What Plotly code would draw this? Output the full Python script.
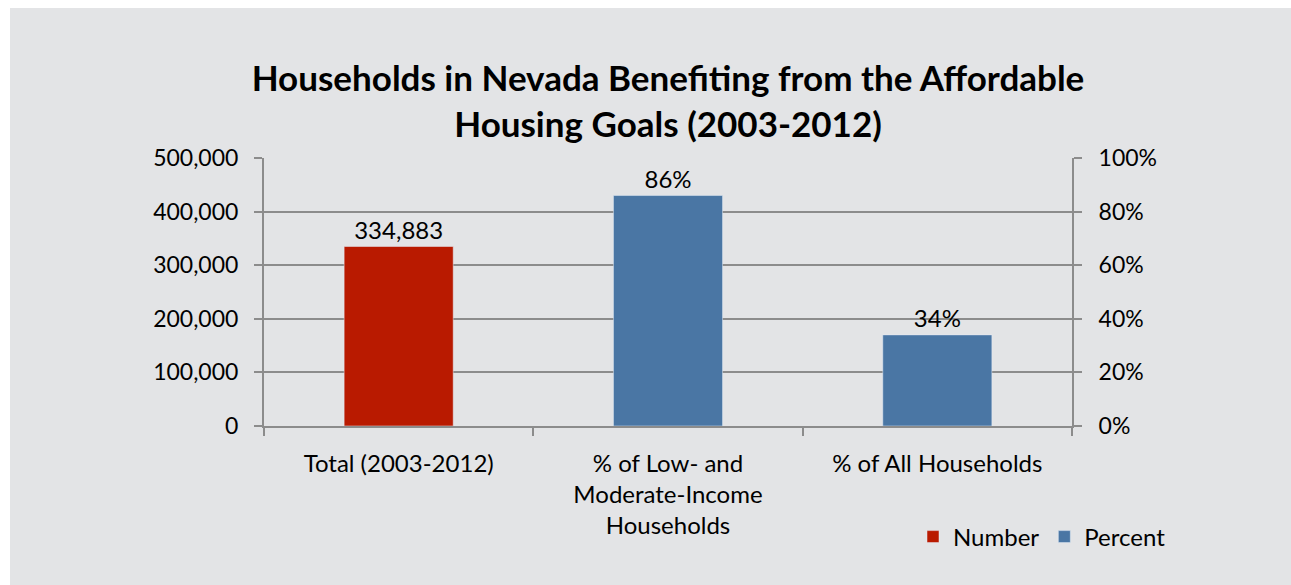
import plotly.graph_objects as go

categories = ["Total (2003-2012)", "% of Low- and<br>Moderate-Income<br>Households", "% of All Households"]
number_cats = [categories[0]]
number_vals = [334883]
percent_cats = [categories[1], categories[2]]
percent_vals = [0.86, 0.34]
left_ticks = [0, 100000, 200000, 300000, 400000, 500000]
right_ticks = [0, 0.2, 0.4, 0.6, 0.8, 1.0]

FONT = "Lato"
GRID = "#8c8c8c"
BG = "#e3e4e6"

fig = go.Figure()
fig.add_trace(go.Bar(
    x=number_cats, y=number_vals, name="Number", marker_color="#b91a00",
    width=0.405, texttemplate="%{y:,}", textposition="outside",
    textfont=dict(size=24, color="black", family=FONT), cliponaxis=False,
    yaxis="y", hoverinfo="skip"))
fig.add_trace(go.Bar(
    x=percent_cats, y=percent_vals, name="Percent", marker_color="#4a76a4",
    width=0.405, texttemplate="%{y:.0%}", textposition="outside",
    textfont=dict(size=24, color="black", family=FONT), cliponaxis=False,
    yaxis="y2", hoverinfo="skip"))

W, H = 1291, 585
L, R, T, B = 264, 1072, 158, 426
pw, ph = R - L, B - T

def px_x(v):
    return (v - L) / pw

def px_y(v):
    return (B - v) / ph

fig.update_layout(
    width=W, height=H,
    margin=dict(l=L, r=W - R, t=T, b=H - B, pad=0),
    paper_bgcolor=BG, plot_bgcolor=BG,
    font=dict(family=FONT, size=24, color="black"),
    barmode="overlay",
    title=dict(
        text="<b>Households in Nevada Benefiting from the Affordable<br>Housing Goals (2003-2012)</b>",
        x=px_x(668), xref="paper", xanchor="center",
        y=1 - 91 / H, yref="container", yanchor="middle",
        font=dict(size=35, family=FONT, color="black")),
    showlegend=True,
    legend=dict(orientation="h", x=px_x(1171), xanchor="right", y=px_y(537), yanchor="middle",
                bgcolor="rgba(0,0,0,0)", font=dict(size=24, family=FONT),
                itemclick=False, itemdoubleclick=False),
    xaxis=dict(type="category", categoryorder="array", categoryarray=categories,
               showline=True, linecolor=GRID, linewidth=2,
               ticks="outside", tickson="boundaries", ticklen=8, tickcolor=GRID, tickwidth=2,
               showgrid=False, ticklabelstandoff=15, fixedrange=True),
    yaxis=dict(range=[0, 500000], tickvals=left_ticks, tickformat=",",
               tickfont=dict(size=23),
               showline=True, linecolor=GRID, linewidth=2,
               ticks="outside", ticklen=8, tickcolor=GRID, tickwidth=2,
               showgrid=True, gridcolor=GRID, gridwidth=2, zeroline=False,
               ticklabelstandoff=11, fixedrange=True),
    yaxis2=dict(range=[0, 1], tickvals=right_ticks, tickformat=".0%",
                tickfont=dict(size=23),
                overlaying="y", side="right",
                showline=True, linecolor=GRID, linewidth=2,
                ticks="outside", ticklen=8, tickcolor=GRID, tickwidth=2,
                showgrid=False, zeroline=False, ticklabelstandoff=12, fixedrange=True),
    shapes=[
        dict(type="rect", xref="paper", yref="paper", layer="below",
             x0=px_x(-5), x1=px_x(10), y0=px_y(600), y1=px_y(-5),
             fillcolor="white", line=dict(width=0)),
        dict(type="rect", xref="paper", yref="paper", layer="below",
             x0=px_x(-5), x1=px_x(W + 5), y0=px_y(8), y1=px_y(-5),
             fillcolor="white", line=dict(width=0)),
    ],
)

fig.write_html(
    "out.html",
    config={"displayModeBar": False},
    post_script="document.body.style.margin='0px';document.body.style.overflow='hidden';",
)
